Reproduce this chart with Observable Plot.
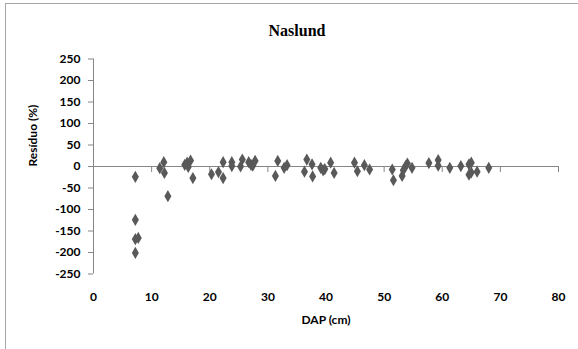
<!DOCTYPE html>
<html>
<head>
<meta charset="utf-8">
<script src="https://cdn.jsdelivr.net/npm/d3@7"></script>
<script src="https://cdn.jsdelivr.net/npm/@observablehq/plot@0.6"></script>
<style>
  html, body { margin: 0; padding: 0; background: #fff; }
  #wrap { position: relative; width: 578px; height: 349px; overflow: hidden; }
  #border { position: absolute; left: 5px; top: 3px; width: 580px; height: 360px;
            border-top: 1px solid #a6a6a6; border-left: 1px solid #a6a6a6; pointer-events: none; }
</style>
</head>
<body>
<div id="wrap"><div id="border"></div></div>
<script>
// Data: DAP (cm) and residual (%)
const dap = [7.2, 7.2, 7.2, 7.7, 7.2,
  11.4, 12.1, 12.2, 12.8,
  15.7, 16.1, 16.3, 16.7, 17.1,
  20.3, 21.5, 22.3, 22.3,
  23.8, 23.8, 25.3, 25.6, 26.7, 27.1, 27.4, 27.8,
  31.3, 31.7, 32.8, 33.3,
  36.3, 36.7, 37.6, 37.7, 39.1, 39.5, 39.8, 40.8, 41.4,
  44.9, 45.4, 46.6, 47.5,
  51.4, 51.6, 53.1, 53.3, 53.7, 54.0, 54.8,
  57.7, 59.3, 59.3, 61.3, 63.2, 64.6, 65.0, 64.6, 65.0, 66.0, 68.0];
const residuo = [-24, -124, -169, -166, -201,
  -4, 10, -15, -69,
  4, 9, -1, 14, -27,
  -18, -13, -27, 10,
  10, 1, 0, 16, 10, 4, 2, 13,
  -22, 13, -3, 3,
  -12, 16, 5, -23, -3, -9, -6, 9, -15,
  9, -11, 3, -7,
  -7, -32, -22, -9, 1, 7, -3,
  8, 15, 2, -3, 1, 5, 9, -19, -14, -12, -3];
const xTicks = [0, 10, 20, 30, 40, 50, 60, 70, 80];
const yTicks = [-250, -200, -150, -100, -50, 0, 50, 100, 150, 200, 250];
const title = "Naslund";
const xLabel = "DAP (cm)";
const yLabel = "Resíduo (%)";

const points = dap.map((d, i) => ({x: d, y: residuo[i]}));
const axisColor = "#868686";
const font = "Lato, 'Open Sans', sans-serif";

const chart = Plot.plot({
  width: 578,
  height: 349,
  marginLeft: 93,
  marginRight: 20,
  marginTop: 58.5,
  marginBottom: 75.5,
  style: {fontFamily: font, fontSize: "12px", fontWeight: "bold", color: "#000", background: "transparent"},
  x: {type: "linear", domain: [0, 80], axis: null},
  y: {type: "linear", domain: [-250, 250], axis: null},
  marks: [
    // horizontal axis line at y = 0
    Plot.ruleY([0], {x1: 0, x2: 80, stroke: axisColor, strokeWidth: 1}),
    // x ticks hanging down from y = 0
    Plot.ruleX(xTicks, {x: d => d, y1: 0, y2: 0, insetBottom: -6, stroke: axisColor}),
    // vertical axis line
    Plot.ruleX([0], {y1: -250, y2: 250, stroke: axisColor}),
    Plot.axisY({ticks: yTicks, tickSize: 5, tickPadding: 8, stroke: axisColor, tickFormat: d => d,
      fill: "#000", fontWeight: "bold", fontSize: 12, fontFamily: font, label: null}),
    // x tick labels at the bottom
    Plot.axisX({ticks: xTicks, tickSize: 0, tickPadding: 18, tickFormat: d => d,
      fill: "#000", fontWeight: "bold", fontSize: 12, fontFamily: font, label: null}),
    Plot.dot(points, {x: "x", y: "y", symbol: "diamond", r: 3.7, fill: "#595959", stroke: "none"}),
    Plot.text([title], {frameAnchor: "top", dx: -29, dy: -34, fontFamily: "'Liberation Serif', serif",
      fontWeight: "bold", fontSize: 16, fill: "#000"}),
    Plot.text([xLabel], {frameAnchor: "bottom", dx: 0, dy: 50, fontFamily: font,
      fontWeight: "bold", fontSize: 12, fill: "#000"}),
    Plot.text([yLabel], {frameAnchor: "left", dx: -60, dy: 0, rotate: -90, fontFamily: font,
      fontWeight: "bold", fontSize: 12, fill: "#000"})
  ]
});
document.getElementById("wrap").prepend(chart);
</script>
</body>
</html>
